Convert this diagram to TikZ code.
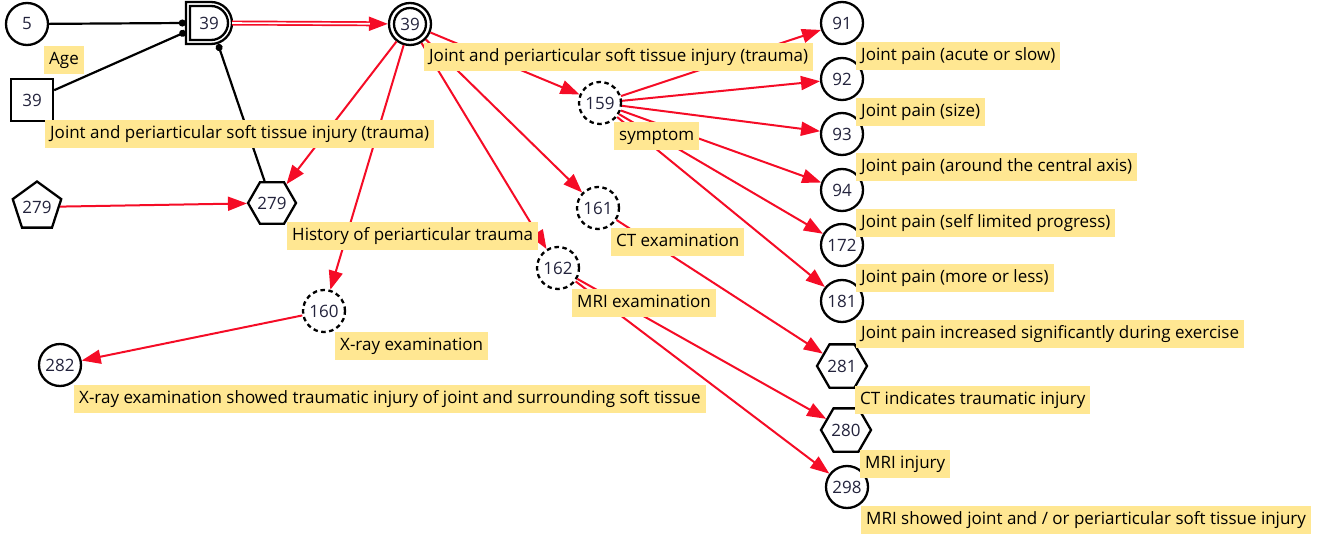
\documentclass[tikz,border=0pt]{standalone}
\usepackage{fontspec}
\setmainfont{Open Sans}
\usetikzlibrary{arrows.meta,shapes.geometric}
\definecolor{lab}{RGB}{255,231,146}
\definecolor{edgec}{RGB}{245,12,38}
\definecolor{numc}{RGB}{35,35,60}
\begin{document}
\begin{tikzpicture}[x=1pt,y=-1pt,font=\fontsize{17}{20}\selectfont,
  circ/.style={circle,draw,line width=2.3pt,minimum size=42pt,inner sep=0pt,text=numc},
  dcirc/.style={circ,dash pattern=on 4.5pt off 3.5pt},
  hexa/.style={regular polygon,regular polygon sides=6,draw,line width=2.3pt,minimum size=50pt,inner sep=0pt,text=numc},
  lbl/.style={fill=lab,anchor=north west,inner xsep=5pt,inner ysep=0pt,font=\fontsize{17}{20}\selectfont,text height=12.5pt,text depth=4pt,minimum height=28pt},
  ra/.style={draw=edgec,line width=2pt,-{Triangle[length=19pt,width=14pt]}},
  bl/.style={draw=black,line width=2.2pt},
  dotend/.style={-{Circle[length=7pt]}},
  dotstart/.style={{Circle[length=7pt]}-}]
\useasboundingbox (0,0) rectangle (1319,537);
% nodes
\node[circ] (n5) at (27,24) {5};
\node[draw,line width=2.3pt,minimum size=42pt,inner sep=0pt,text=numc] (sq39) at (32,100) {39};
\node[minimum width=46pt,minimum height=42pt,inner sep=0pt,text=numc] (D) at (209,23) {39};
\draw[line width=2.3pt] (186,2) -- (211,2) arc[start angle=90,end angle=-90,radius=21pt] -- (186,44) -- cycle;
\draw[line width=2.3pt] (190,6) -- (211,6) arc[start angle=90,end angle=-90,radius=17pt] -- (190,40) -- cycle;
\node[circ] (c39) at (410,24) {39};
\draw[line width=2.3pt] (c39.center) circle[radius=16pt];
\node[dcirc] (n159) at (600,103) {159};
\node[circ] (n91) at (842,23) {91};
\node[circ] (n92) at (842,79) {92};
\node[circ] (n93) at (842,134) {93};
\node[circ] (n94) at (842,190) {94};
\node[circ] (n172) at (842,245) {172};
\node[circ] (n181) at (842,301) {181};
\node[hexa] (h281) at (842,366) {281};
\node[hexa] (h280) at (846,430) {280};
\node[circ] (n298) at (847,487) {298};
\node[regular polygon,regular polygon sides=5,draw,line width=2.3pt,minimum size=48pt,inner sep=0pt,text=numc] (p279) at (37,207) {279};
\node[hexa,minimum size=48pt] (h279) at (272,203) {279};
\node[dcirc] (n160) at (324,311) {160};
\node[circ] (n282) at (60,365) {282};
\node[dcirc] (n161) at (598,208) {161};
\node[dcirc] (n162) at (558,268) {162};
% black connectors
\draw[bl,dotend] (n5) -- (D.west);
\draw[bl,dotend] (sq39) -- (D.201);
\draw[bl,dotstart] (D.293) -- (h279);
% double red arrow
\draw[ra] (D.east) -- (c39);
\draw[edgec,line width=5pt,shorten >=18pt] (D.east) -- (c39);
\draw[white,line width=1.6pt,shorten >=18pt] (D.east) -- (c39);
% red arrows
\draw[ra] (c39) -- (h279);
\draw[ra] (c39) -- (n160);
\draw[ra] (c39) -- (n159);
\draw[ra] (c39) -- (n161);
\draw[ra] (c39) -- (n162);
\draw[ra] (p279) -- (h279);
\draw[ra] (n160) -- (n282);
\draw[ra] (n159) -- (n91);
\draw[ra] (n159) -- (n92);
\draw[ra] (n159) -- (n93);
\draw[ra] (n159) -- (n94);
\draw[ra] (n159) -- (n172);
\draw[ra] (n159) -- (n181);
\draw[ra] (n161) -- (h281);
\draw[ra] (n162) -- (h280);
\draw[ra] (n162) -- (n298);
% labels
\node[lbl] (l5) at (44,46) {Age};
\node[lbl] (lsq) at (45,120) {Joint and periarticular soft tissue injury (trauma)};
\node[lbl] (lc39) at (424,43) {Joint and periarticular soft tissue injury (trauma)};
\node[lbl] (l159) at (614,122) {symptom};
\node[lbl] (l91) at (856,42) {Joint pain (acute or slow)};
\node[lbl] (l92) at (856,98) {Joint pain (size)};
\node[lbl] (l93) at (856,153) {Joint pain (around the central axis)};
\node[lbl] (l94) at (856,209) {Joint pain (self limited progress)};
\node[lbl] (l172) at (856,264) {Joint pain (more or less)};
\node[lbl] (l181) at (856,320) {Joint pain increased significantly during exercise};
\node[lbl] (l281) at (855,386) {CT indicates traumatic injury};
\node[lbl] (l280) at (860,450) {MRI injury};
\node[lbl] (l298) at (861,506) {MRI showed joint and / or periarticular soft tissue injury};
\node[lbl] (l279) at (287,222) {History of periarticular trauma};
\node[lbl] (l160) at (335,332) {X-ray examination};
\node[lbl] (l282) at (74,385) {X-ray examination showed traumatic injury of joint and surrounding soft tissue};
\node[lbl] (l161) at (611,228) {CT examination};
\node[lbl] (l162) at (572,289) {MRI examination};
\end{tikzpicture}
\end{document}
